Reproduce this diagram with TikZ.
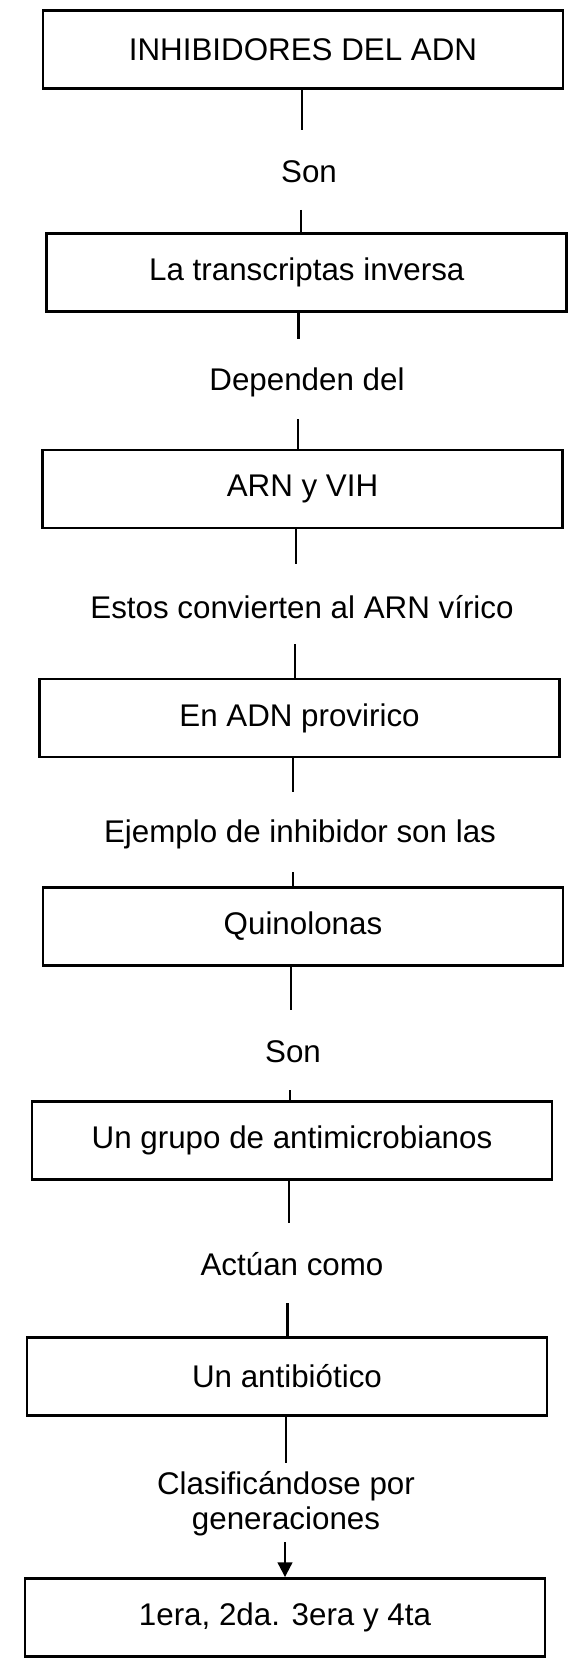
\documentclass[tikz,border=0pt]{standalone}
\usepackage{fontspec}
\setmainfont{Liberation Sans}
\usetikzlibrary{arrows.meta}
\begin{document}
\begin{tikzpicture}[x=0.75pt,y=-0.75pt,
  box/.style={draw,line width=2.2pt,minimum width=390pt,minimum height=58.5pt,inner sep=0pt,font=\fontsize{23.5}{26.25}\selectfont},
  lbl/.style={inner sep=0pt,align=center,font=\fontsize{23.5}{26.25}\selectfont},
  link/.style={line width=1.6pt}]

  \useasboundingbox (0,0) rectangle (578,1658);

  % Boxes
  \node[box] (inhib) at (303,49.3) {INHIBIDORES DEL ADN};
  \node[box] (trans) at (306.8,272.5) {La transcriptas inversa};
  \node[box] (arn) at (302.5,489) {ARN y VIH};
  \node[box] (adn) at (299.5,718) {En ADN provirico};
  \node[box] (quin) at (303,926.5) {Quinolonas};
  \node[box] (grupo) at (292,1140.5) {Un grupo de antimicrobianos};
  \node[box] (antib) at (287,1376.5) {Un antibiótico};
  \node[box] (gen) at (285,1617.5) {1era, 2da. 3era y 4ta};

  % Labels between boxes
  \node[lbl] (son1) at (309,172) {Son};
  \node[lbl] (dep) at (307,382) {Dependen del};
  \node[lbl] (estos) at (302,607) {Estos convierten al ARN vírico};
  \node[lbl] (ejem) at (300,834) {Ejemplo de inhibidor son las};
  \node[lbl] (son2) at (293,1052) {Son};
  \node[lbl] (act) at (292,1264) {Actúan como};
  \node[lbl] (clas) at (286,1504) {Clasificándose por\\generaciones};

  % Free ends of the links
  \coordinate (L1a) at (302,130);
  \coordinate (L1b) at (301,210);
  \coordinate (L2a) at (298.5,339);
  \coordinate (L2b) at (298,419);
  \coordinate (L3a) at (296,564);
  \coordinate (L3b) at (295,644);
  \coordinate (L4a) at (293,792);
  \coordinate (L4b) at (292.6,872);
  \coordinate (L5a) at (291,1010);
  \coordinate (L5b) at (290,1090);
  \coordinate (L6a) at (288.6,1223);
  \coordinate (L6b) at (287.5,1303);
  \coordinate (L7a) at (286,1463);
  \coordinate (L7b) at (285,1542);

  % Draw links
  \draw[link] (inhib.south -| L1a) -- (L1a);
  \draw[link] (L1b) -- (L1b |- trans.north);
  \draw[link] (trans.south -| L2a) -- (L2a);
  \draw[link] (L2b) -- (L2b |- arn.north);
  \draw[link] (arn.south -| L3a) -- (L3a);
  \draw[link] (L3b) -- (L3b |- adn.north);
  \draw[link] (adn.south -| L4a) -- (L4a);
  \draw[link] (L4b) -- (L4b |- quin.north);
  \draw[link] (quin.south -| L5a) -- (L5a);
  \draw[link] (L5b) -- (L5b |- grupo.north);
  \draw[link] (grupo.south -| L6a) -- (L6a);
  \draw[link] (L6b) -- (L6b |- antib.north);
  \draw[link] (antib.south -| L7a) -- (L7a);
  \draw[link,-{Triangle[length=11pt,width=11pt]}] (L7b) -- (L7b |- gen.north);

\end{tikzpicture}
\end{document}
